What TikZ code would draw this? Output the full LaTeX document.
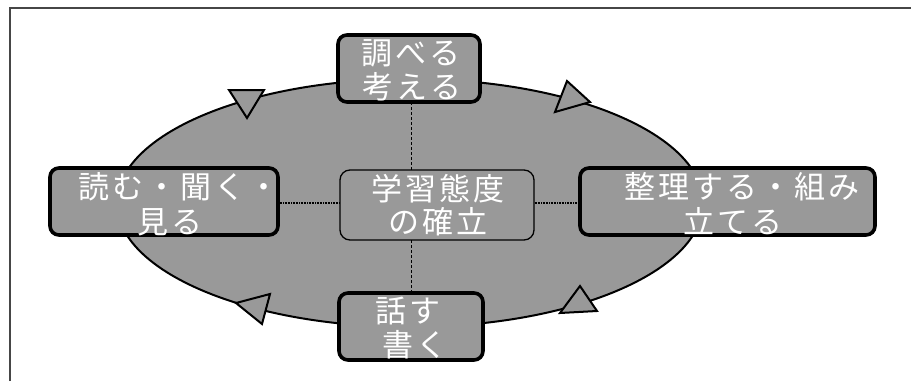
\documentclass[tikz,border=0pt]{standalone}
\usepackage{fontspec}
\newfontfamily\jpfont[LetterSpace=10]{Noto Sans CJK JP}
\usetikzlibrary{shapes.geometric}
\definecolor{fillgray}{RGB}{153,153,153}
\definecolor{framegray}{RGB}{70,70,70}
\tikzset{
  ovalshape/.style={draw=black, line width=2pt, fill=fillgray},
  outerbox/.style={draw=black, line width=3.6pt, fill=fillgray, rounded corners=9pt, inner sep=0pt},
  centerbox/.style={draw=black, line width=1.3pt, fill=fillgray, rounded corners=10pt, inner sep=0pt},
  txt/.style={text=white, font=\jpfont\fontsize{31pt}{33pt}\selectfont, inner sep=0pt, anchor=center},
  tri/.style={draw=black, line width=2pt, fill=fillgray, line join=miter},
  vlink/.style={draw=black, line width=1pt, dash pattern=on 3pt off 2pt},
  hlink/.style={draw=black, line width=2pt, dash pattern=on 1pt off 0.6pt},
}
\begin{document}
\begin{tikzpicture}[x=1pt,y=-1pt]
\useasboundingbox (0,0) rectangle (911,381);
% frame (only top and left visible)
\draw[framegray, line width=1.6pt] (10,381) -- (10,8) -- (911,8);
% ellipse
\node[ovalshape, ellipse, minimum width=586pt, minimum height=248pt, inner sep=0pt] (oval) at (410,203) {};
% boxes
\node[centerbox, minimum width=194pt, minimum height=70pt] (ctr) at (437,205) {};
\node[outerbox, minimum width=142pt, minimum height=67pt] (top) at (409,68.5) {};
\node[outerbox, minimum width=144pt, minimum height=67pt] (bot) at (411,326.5) {};
\node[outerbox, minimum width=228pt, minimum height=67pt] (lft) at (164,201.5) {};
\node[outerbox, minimum width=295pt, minimum height=67pt] (rgt) at (727.5,201.5) {};
% connectors
\coordinate (vt) at (411,102);
\coordinate (vc1) at (411,170);
\coordinate (vc2) at (411,240);
\coordinate (vb) at (411,293);
\draw[vlink] (vt) -- (vc1);
\draw[vlink] (vc2) -- (vb);
\draw[hlink] (lft.east |- 0,203) -- (ctr.west |- 0,203);
\draw[hlink] (ctr.east |- 0,203) -- (rgt.west |- 0,203);
% texts
\node[txt] (ct1) at (438,189) {学習態度};
\node[txt] (ct2) at (438,222) {の確立};
\node[txt] (tt1) at (411,53) {調べる};
\node[txt] (tt2) at (412,87) {考える};
\node[txt] (bt1) at (408,311) {話す};
\node[txt] (bt2) at (415,345) {書く};
\node[txt] (lt1) at (179,187) {読む・聞く・};
\node[txt] (lt2) at (170,222) {見る};
\node[txt] (rt1) at (742,187) {整理する・組み};
\node[txt] (rt2) at (733,221) {立てる};
% arrow triangles
\draw[tri] (229,90) -- (264,90) -- (247,118) -- cycle;
\draw[tri] (567,81) -- (590,102) -- (555,112) -- cycle;
\draw[tri] (580,286) -- (560,313) -- (597,311) -- cycle;
\draw[tri] (236,303) -- (270,294) -- (262,324) -- cycle;
\end{tikzpicture}
\end{document}
